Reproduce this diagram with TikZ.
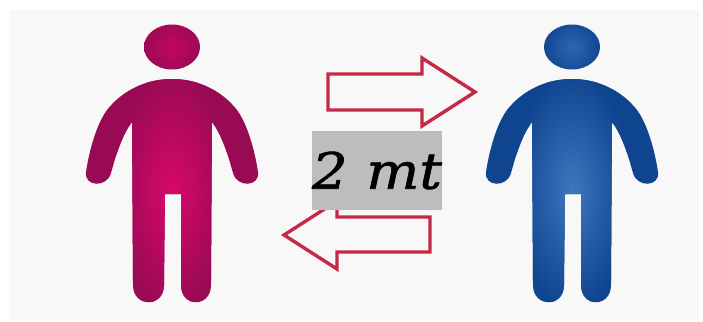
\documentclass[tikz,border=0pt]{standalone}
\usepackage{fontspec}
\newfontfamily\labelfont[ItalicFeatures={FakeBold=1.2}]{DejaVu Serif}
\definecolor{pagebg}{HTML}{F8F8F8}
\definecolor{arrowred}{HTML}{C42A45}
\definecolor{labelgrey}{HTML}{BDBDBD}
\definecolor{pinkout}{HTML}{980A54}
\definecolor{pinkin}{HTML}{D8086A}
\definecolor{pinkhead}{HTML}{C00860}
\definecolor{blueout}{HTML}{0F448F}
\definecolor{bluein}{HTML}{3F76BE}
\definecolor{bluehead}{HTML}{2F66B4}
\tikzset{
  flow/.style={draw=arrowred,line width=3.4pt,line join=miter,fill=pagebg},
  distlabel/.style={fill=labelgrey,inner sep=0pt,text width=130pt,align=center,minimum height=79pt,font=\labelfont\itshape\fontsize{50}{50}\selectfont}
}
\newcommand{\personshape}[4]{%
  \begin{scope}[xshift=#1pt]
    \begin{scope}
      \clip (172,47) ellipse [x radius=28,y radius=22.5];
      \shade[inner color=#4,outer color=#2] (172,47) circle (30);
    \end{scope}
    \begin{scope}
      \clip (172,79)
        .. controls (200,79) and (223,92) .. (237,110)
        .. controls (248,125) and (255,152) .. (258,172)
        .. controls (260,187) and (237,188) .. (233,173)
        .. controls (228,155) and (222,135) .. (212,122)
        -- (211,285)
        .. controls (211,308) and (181,308) .. (181,285)
        -- (181,194) -- (165,194) -- (164,285)
        .. controls (164,308) and (133,308) .. (133,285)
        -- (132,122)
        .. controls (122,135) and (116,155) .. (111,173)
        .. controls (107,188) and (84,187) .. (86,172)
        .. controls (89,152) and (96,125) .. (107,110)
        .. controls (121,92) and (144,79) .. (172,79) -- cycle;
      \fill[#2] (60,60) rectangle (280,310);
      \shade[inner color=#3,outer color=#2] (172,190) ellipse [x radius=58,y radius=120];
    \end{scope}
  \end{scope}}
\begin{document}
\begin{tikzpicture}[x=1pt,y=-1pt]
  \useasboundingbox (0,0) rectangle (703,321);
  \fill[white] (0,0) rectangle (703,321);
  \fill[pagebg] (10,10) rectangle (700,320);
  \personshape{0}{pinkout}{pinkin}{pinkhead}
  \personshape{400}{blueout}{bluein}{bluehead}
  \draw[flow] (328,74) -- (422,74) -- (422,58) -- (475,92) -- (422,126) -- (422,110) -- (328,110) -- cycle;
  \draw[flow] (430,217) -- (337,217) -- (337,201) -- (284,235) -- (337,269) -- (337,252) -- (430,252) -- cycle;
  \node[distlabel] (dist) at (377,170.5) {\raisebox{-5pt}{\scalebox{1.12}[1]{2 mt}}};
\end{tikzpicture}
\end{document}
